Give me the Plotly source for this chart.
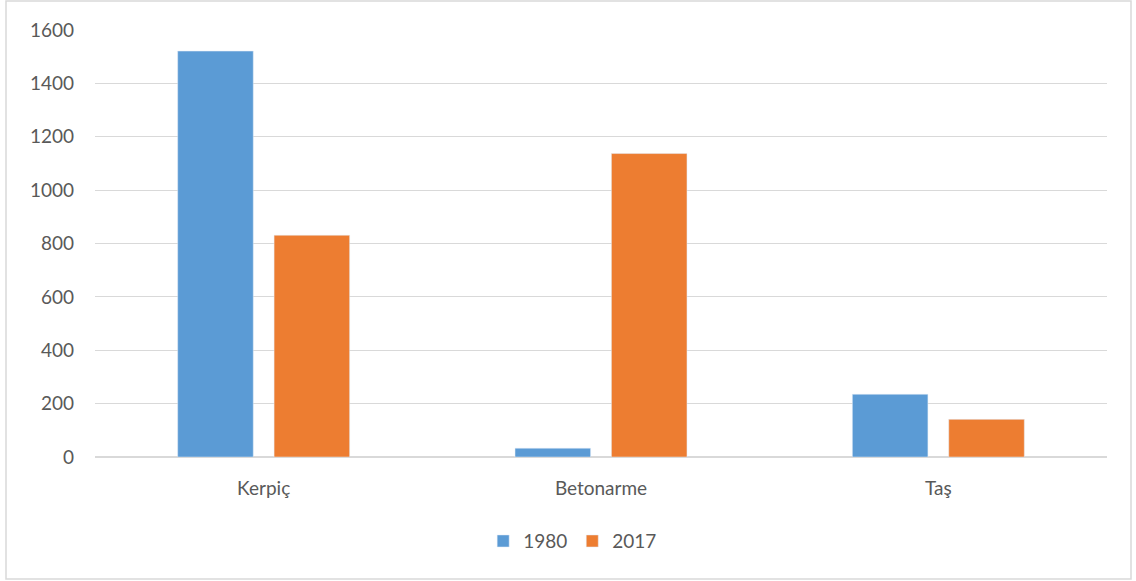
import plotly.graph_objects as go

categories = ["Kerpiç", "Betonarme", "Taş"]
values_1980 = [1521, 33, 235]
values_2017 = [831, 1137, 141]

W, H = 1136, 581
L, R, T, B = 95, 29, 30, 124

fig = go.Figure()
fig.add_trace(go.Bar(name="1980", x=categories, y=values_1980, marker_color="#5b9bd5"))
fig.add_trace(go.Bar(name="2017", x=categories, y=values_2017, marker_color="#ed7d31"))

# outer chart border, in paper coordinates
pw, ph = W - L - R, H - T - B
fig.add_shape(
    type="rect", xref="paper", yref="paper",
    x0=(6 - L) / pw, x1=(1131 - L) / pw,
    y0=(H - B - 579) / ph, y1=(H - B - 1) / ph,
    line=dict(color="#d9d9d9", width=1.5), layer="below",
)

fig.update_layout(
    width=W, height=H,
    margin=dict(l=L, r=R, t=T, b=B),
    plot_bgcolor="white", paper_bgcolor="white",
    font=dict(family="Lato, Open Sans, sans-serif", size=19, color="#595959"),
    barmode="group", bargap=0.4285, bargroupgap=0.216,
    showlegend=True,
    legend=dict(orientation="h", x=0.472, xanchor="center", y=-0.197, yanchor="middle",
                font=dict(size=19), itemwidth=30, traceorder="normal"),
    yaxis=dict(range=[0, 1600], dtick=200, showgrid=True, gridcolor="#d9d9d9",
               zeroline=True, zerolinecolor="#d9d9d9", zerolinewidth=1.5,
               ticklabelstandoff=20, showline=False, fixedrange=True),
    xaxis=dict(showgrid=False, showline=False, ticks="", ticklabelstandoff=18,
               fixedrange=True),
)

fig.write_html("out.html", config={"displayModeBar": False},
               post_script="document.body.style.margin='0';")
